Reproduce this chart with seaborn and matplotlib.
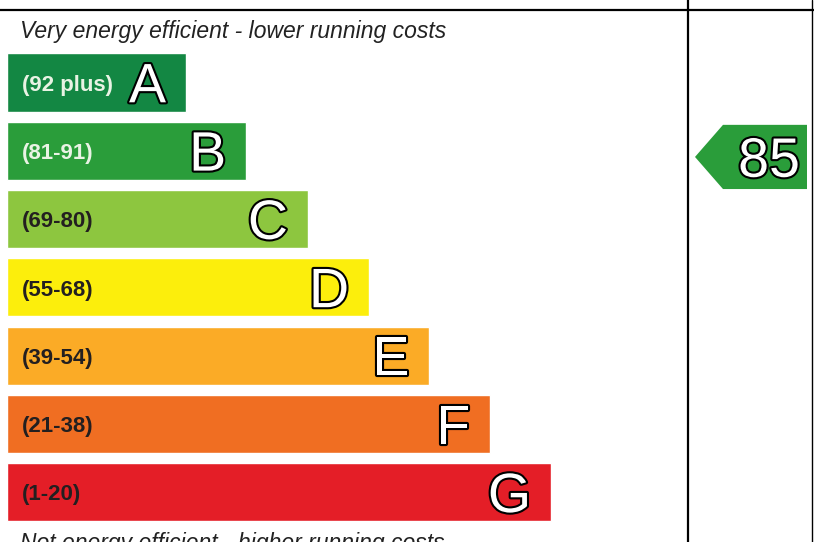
import matplotlib
matplotlib.use("Agg")
import matplotlib.pyplot as plt
import matplotlib.patheffects as pe
from matplotlib.patches import Polygon
import seaborn as sns

sns.set_theme(style="white")
plt.rcParams["font.family"] = ["Liberation Sans", "DejaVu Sans"]

# EPC bands, top (best) to bottom (worst)
bands = ["A", "B", "C", "D", "E", "F", "G"]
ranges = ["(92 plus)", "(81-91)", "(69-80)", "(55-68)", "(39-54)", "(21-38)", "(1-20)"]
band_low = [92, 81, 69, 55, 39, 21, 1]
bar_length = [179, 239, 301, 362, 422, 483, 544]
colors = ["#138743", "#2a9d3a", "#8dc63f", "#fcee0c", "#fbab26", "#f06e22", "#e41e27"]
label_colors = ["#e9f3e4", "#e9f3e4", "#231f20", "#231f20", "#231f20", "#231f20", "#231f20"]
current_rating = 85
header = "Very energy efficient - lower running costs"
footer = "Not energy efficient - higher running costs"

fig = plt.figure(figsize=(8.14, 5.42), dpi=100)
ax = fig.add_axes([0, 0, 1, 1])

sns.barplot(x=bar_length, y=bands, hue=bands, palette=colors, orient="h",
            width=0.85, legend=False, saturation=1, ax=ax)

ax.set_xlim(-7, 807)
ax.set_ylim(6.728, -1.208)
ax.axis("off")

outline = [pe.withStroke(linewidth=3, foreground="black")]

for i, band in enumerate(bands):
    ax.text(15, i + 0.12, ranges[i], fontsize=16, fontweight="bold",
            color=label_colors[i], ha="left", va="baseline")
    ax.text(bar_length[i] - 20, i + 0.29, band, fontsize=40, color="white",
            ha="right", va="baseline", path_effects=outline)

ax.text(13, -0.652, header, fontsize=16.5, style="italic", color="#222222",
        ha="left", va="baseline")
ax.text(13, 6.845, footer, fontsize=16.5, style="italic", color="#222222",
        ha="left", va="baseline")

# frame lines
ax.axhline(-1.061, color="black", lw=1.6)
ax.axvline(681, color="black", lw=1.6)
ax.axvline(805, color="black", lw=1.0)

# current rating arrow
idx = next(i for i, low in enumerate(band_low) if current_rating >= low)
yc = idx + 0.09
hh = 0.47
arrow = Polygon([(688, yc), (716, yc - hh), (800, yc - hh), (800, yc + hh), (716, yc + hh)],
                closed=True, facecolor=colors[idx], edgecolor="none")
ax.add_patch(arrow)
ax.text(793, yc + 0.29, str(current_rating), fontsize=40, color="white",
        ha="right", va="baseline", path_effects=outline)

fig.savefig("out.png", dpi=100)
